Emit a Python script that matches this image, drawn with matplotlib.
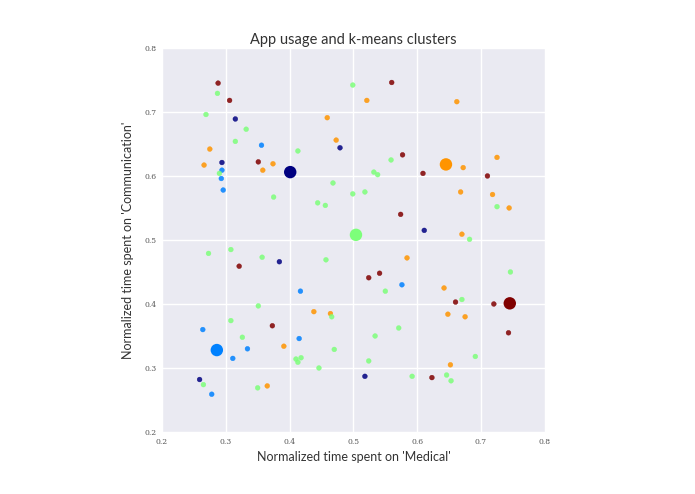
import numpy as np
import matplotlib
matplotlib.use("Agg")
import matplotlib.pyplot as plt

# cluster 0 = navy, 1 = blue, 2 = light green, 3 = orange, 4 = dark red
medical = [
    0.288, 0.287, 0.306, 0.269, 0.315, 0.332, 0.459, 0.473, 0.479, 0.315,
    0.356, 0.275, 0.413, 0.294, 0.351, 0.374, 0.266, 0.294, 0.358, 0.290,
    0.293, 0.296, 0.468, 0.499, 0.375, 0.444, 0.456, 0.499,
    0.560, 0.521, 0.662, 0.577, 0.725, 0.559, 0.672, 0.532, 0.538, 0.609,
    0.710, 0.518, 0.668, 0.718, 0.725, 0.744, 0.574, 0.611, 0.670, 0.682,
    0.273, 0.308, 0.357, 0.384, 0.321, 0.457, 0.417, 0.351, 0.438, 0.464,
    0.466, 0.308, 0.373, 0.264, 0.326, 0.415, 0.391, 0.334, 0.470, 0.311,
    0.410, 0.418, 0.413, 0.446, 0.259, 0.265, 0.350, 0.365, 0.278,
    0.584, 0.541, 0.524, 0.576, 0.550, 0.746, 0.642, 0.660, 0.670, 0.720,
    0.648, 0.675, 0.571, 0.534, 0.743, 0.691, 0.524, 0.652, 0.518, 0.592,
    0.623, 0.646, 0.653,
]
communication = [
    0.745, 0.729, 0.718, 0.696, 0.689, 0.673, 0.691, 0.656, 0.644, 0.654,
    0.648, 0.642, 0.639, 0.621, 0.622, 0.619, 0.617, 0.609, 0.609, 0.604,
    0.596, 0.578, 0.589, 0.572, 0.567, 0.558, 0.554, 0.742,
    0.746, 0.718, 0.716, 0.633, 0.629, 0.625, 0.613, 0.606, 0.602, 0.604,
    0.600, 0.575, 0.575, 0.571, 0.552, 0.550, 0.540, 0.515, 0.509, 0.501,
    0.479, 0.485, 0.473, 0.466, 0.459, 0.469, 0.420, 0.397, 0.388, 0.385,
    0.380, 0.374, 0.366, 0.360, 0.348, 0.346, 0.334, 0.330, 0.329, 0.315,
    0.314, 0.316, 0.309, 0.300, 0.282, 0.274, 0.269, 0.272, 0.259,
    0.472, 0.448, 0.441, 0.430, 0.420, 0.450, 0.425, 0.403, 0.407, 0.400,
    0.384, 0.380, 0.3625, 0.350, 0.355, 0.318, 0.311, 0.305, 0.287, 0.287,
    0.285, 0.289, 0.280,
]
cluster = [
    4, 2, 4, 2, 0, 2, 3, 3, 0, 2,
    1, 3, 2, 0, 4, 3, 3, 1, 3, 2,
    1, 1, 2, 2, 2, 2, 2, 2,
    4, 3, 3, 4, 3, 2, 3, 2, 2, 4,
    4, 2, 3, 3, 2, 3, 4, 0, 3, 2,
    2, 2, 2, 0, 4, 2, 1, 2, 3, 3,
    2, 2, 4, 1, 2, 1, 3, 1, 2, 1,
    2, 2, 2, 2, 0, 2, 2, 3, 1,
    3, 4, 4, 1, 2, 2, 3, 4, 2, 4,
    3, 3, 2, 2, 4, 2, 2, 3, 0, 2,
    4, 2, 2,
]
centroid_medical = [0.401, 0.286, 0.504, 0.645, 0.745]
centroid_communication = [0.606, 0.328, 0.508, 0.618, 0.401]
centroid_cluster = [0, 1, 2, 3, 4]

fig = plt.figure(figsize=(6.95, 4.94), dpi=100)
ax = fig.add_axes([0.233, 0.1255, 0.551, 0.7775])
ax.set_facecolor("#EAEAF2")
for s in ax.spines.values():
    s.set_visible(False)
ax.grid(True, color="white", linewidth=1.0)
ax.set_axisbelow(True)

cmap = plt.get_cmap("jet")
ax.scatter(medical, communication, c=cluster, cmap=cmap, vmin=0, vmax=4,
           s=12, alpha=0.85, linewidths=0.3, zorder=3)
ax.scatter(centroid_medical, centroid_communication, c=centroid_cluster,
           cmap=cmap, vmin=0, vmax=4, s=80, linewidths=0, zorder=4)

ax.set_xlim(0.2, 0.8)
ax.set_ylim(0.2, 0.8)
ticks = [0.2, 0.3, 0.4, 0.5, 0.6, 0.7, 0.8]
ax.set_xticks(ticks)
ax.set_yticks(ticks)
ax.set_xticklabels([f"{t:.1f}" for t in ticks])
ax.set_yticklabels([f"{t:.1f}" for t in ticks])
ax.tick_params(length=0, labelsize=5.5, colors="#555555", pad=4)
for lab in ax.get_xticklabels() + ax.get_yticklabels():
    lab.set_family("DejaVu Serif")

ax.set_title("App usage and k-means clusters", fontsize=10.5,
             family="Lato", color="#333333", pad=3)
ax.set_xlabel("Normalized time spent on 'Medical'", fontsize=9,
              family="Lato", color="#333333", labelpad=4)
ax.set_ylabel("Normalized time spent on 'Communication'", fontsize=9,
              family="Lato", color="#333333", labelpad=7)

fig.savefig("out.png", dpi=100, facecolor="white")
